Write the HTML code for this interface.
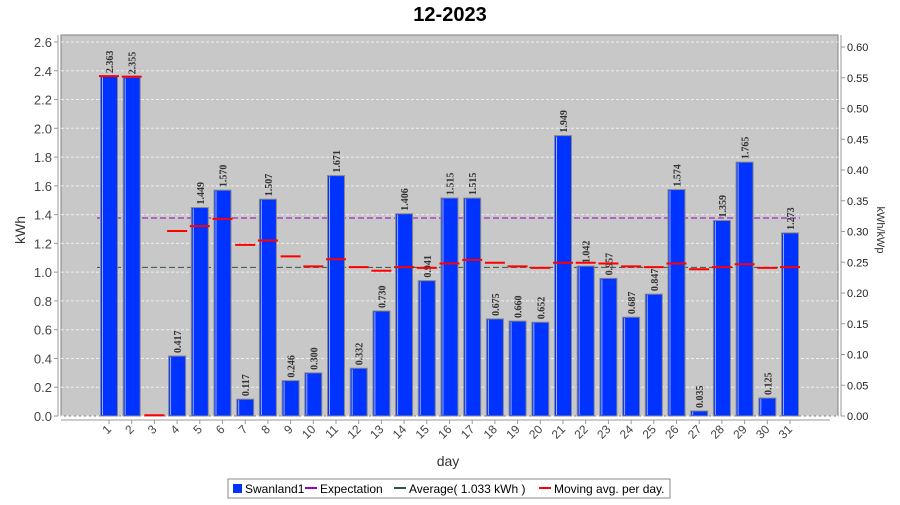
<!DOCTYPE html>
<html><head><meta charset="utf-8"><style>
body{margin:0;background:#fff;width:900px;height:500px;overflow:hidden;font-family:"Liberation Sans",sans-serif}
</style></head><body>
<svg width="900" height="500" xmlns="http://www.w3.org/2000/svg" id="chart">
<text x="450" y="21" text-anchor="middle" font-size="20" font-weight="bold" font-family="Liberation Sans">12-2023</text>
<rect x="61" y="35" width="777" height="381" fill="#c8c8c8" stroke="#808080"/>
<g id="grid"></g><g id="yticks"></g><g id="bars"></g><g id="xticks"></g>
<text transform="translate(25,230) rotate(-90)" text-anchor="middle" font-size="14" fill="#333">kWh</text>
<text transform="translate(877,230) rotate(90)" text-anchor="middle" font-size="11" fill="#333">kWh/kWp</text>
<text x="448" y="466" text-anchor="middle" font-size="14" fill="#333">day</text>
<g>
<rect x="228" y="479" width="442" height="19" fill="#fff" stroke="#888"/>
<rect x="233" y="484" width="9" height="9" fill="#0033ff"/>
<text x="245" y="493" font-size="12">Swanland1</text>
<line x1="305" y1="488" x2="317" y2="488" stroke="#9900cc" stroke-width="2"/>
<text x="320" y="493" font-size="12">Expectation</text>
<line x1="394" y1="488" x2="406" y2="488" stroke="#335544" stroke-width="2"/>
<text x="409" y="493" font-size="12">Average( 1.033 kWh )</text>
<line x1="539" y1="488" x2="551" y2="488" stroke="#ff0000" stroke-width="2"/>
<text x="554" y="493" font-size="12">Moving avg. per day.</text>
</g>
</svg>
<script>
const days=["1","2","3","4","5","6","7","8","9","10","11","12","13","14","15","16","17","18","19","20","21","22","23","24","25","26","27","28","29","30","31"];
const values=[2.363,2.355,0.005,0.417,1.449,1.570,0.117,1.507,0.246,0.300,1.671,0.332,0.730,1.406,0.941,1.515,1.515,0.675,0.660,0.652,1.949,1.042,0.957,0.687,0.847,1.574,0.035,1.359,1.765,0.125,1.273];
const movingAvg=[2.363,2.359,0.005,1.286,1.32,1.37,1.19,1.22,1.11,1.04,1.09,1.035,1.01,1.035,1.03,1.06,1.085,1.065,1.04,1.03,1.065,1.065,1.06,1.04,1.035,1.06,1.02,1.035,1.055,1.03,1.035];
const expectation=1.376;
const average=1.033;
const leftTicks=[0,0.2,0.4,0.6,0.8,1.0,1.2,1.4,1.6,1.8,2.0,2.2,2.4,2.6];
const rightTicks=[0,0.05,0.10,0.15,0.20,0.25,0.30,0.35,0.40,0.45,0.50,0.55,0.60];
const NS="http://www.w3.org/2000/svg";
const y=v=>416-v*143.85, y2=v=>416-v*615, x=i=>109+i*22.7;
function mk(t,a,p,txt){const e=document.createElementNS(NS,t);for(const k in a)e.setAttribute(k,a[k]);if(txt!==undefined)e.textContent=txt;p.appendChild(e);return e;}
const grid=document.getElementById('grid'),yt=document.getElementById('yticks'),bars=document.getElementById('bars'),xt=document.getElementById('xticks');
leftTicks.forEach(v=>{
 const l=mk('line',{x1:61,x2:838,y1:y(v),y2:y(v),stroke:'#eee','stroke-dasharray':'3,2'},grid);
 
 
 const t=mk('text',{x:52,y:y(v)+5,'text-anchor':'end','font-size':13,fill:'#444'},yt,v.toFixed(1));
 
 
 mk('line',{x1:54,x2:58,y1:y(v),y2:y(v),stroke:'#999'},yt);
});
mk('line',{x1:58,x2:58,y1:35,y2:416,stroke:'#999'},yt);
mk('line',{x1:841,x2:841,y1:35,y2:416,stroke:'#999'},yt);
rightTicks.forEach(v=>{
 mk('line',{x1:841,x2:845,y1:y2(v),y2:y2(v),stroke:'#999'},yt);
 const t=mk('text',{x:847,y:y2(v)+4,'font-size':11,fill:'#222'},yt,v.toFixed(2));
 
 
});
const ex=mk('line',{x1:97,x2:800,y1:y(expectation),y2:y(expectation),stroke:'#9900cc','stroke-dasharray':'6,3'},grid);


const av=mk('line',{x1:97,x2:800,y1:y(average),y2:y(average),stroke:'#335544','stroke-dasharray':'6,3'},grid);


mk('line',{x1:61,x2:830,y1:420,y2:420,stroke:'#999'},xt);
values.forEach((v,i)=>{
 const cx=x(i),top=y(v);
 const r=mk('rect',{x:cx-8.5,y:top,width:17,height:416-top,fill:'#0033ff',stroke:'#888','stroke-width':1},bars);
 
 
 mk('line',{x1:cx-6.5,x2:cx-6.5,y1:top+1,y2:415,stroke:'#99aaff','stroke-width':1},bars);
 if(v>0.02){
  const t=mk('text',{transform:`translate(${cx+4},${top-3}) rotate(-90)`,'font-size':10,'font-weight':'bold','font-family':'Liberation Serif',fill:'#333'},bars,v.toFixed(3));
  
  
 }
 const m=mk('line',{x1:cx-10,x2:cx+10,y1:y(movingAvg[i]),y2:y(movingAvg[i]),stroke:'#ff0000','stroke-width':2},bars);
 
 
 mk('line',{x1:cx,x2:cx,y1:420,y2:424,stroke:'#999'},xt);
 const t=mk('text',{transform:`translate(${cx+3},${430}) rotate(-45)`,'text-anchor':'end','font-size':12,fill:'#444'},xt,days[i]);
 
 
});
</script>
</body></html>
